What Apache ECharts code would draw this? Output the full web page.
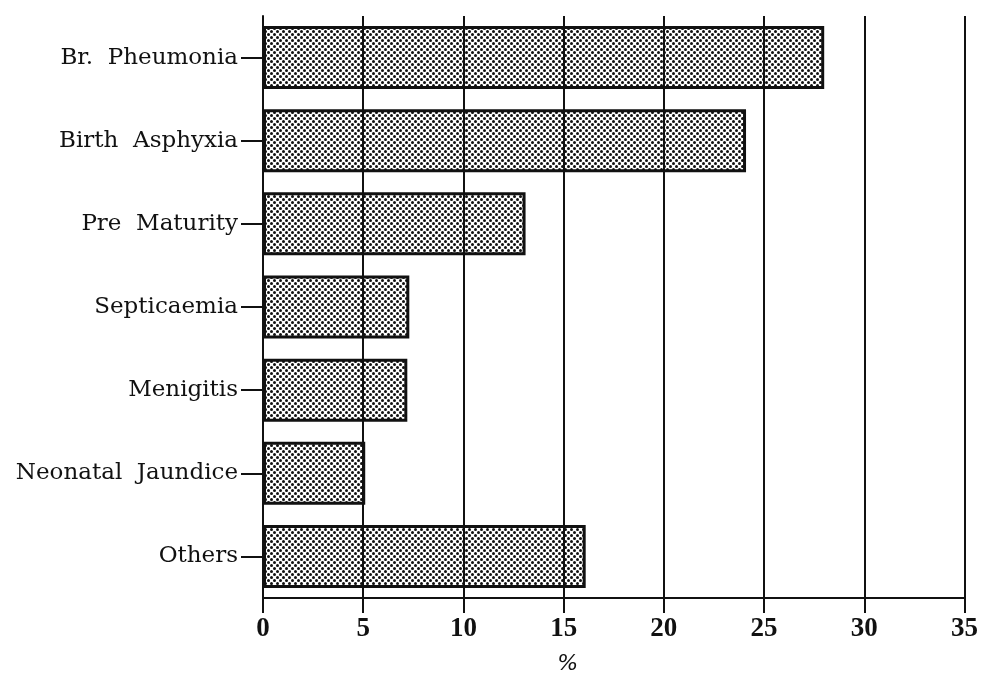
<!DOCTYPE html>
<html><head><meta charset="utf-8">
<script src="https://cdn.jsdelivr.net/npm/echarts@6/dist/echarts.min.js"></script>
<style>html,body{margin:0;padding:0;background:#fff}#c{width:981px;height:680px}</style>
</head><body><div id="c"></div>
<script>
const categories = ['Br.  Pheumonia', 'Birth  Asphyxia', 'Pre  Maturity', 'Septicaemia', 'Menigitis', 'Neonatal  Jaundice', 'Others'];
const values = [28.0, 24.1, 13.1, 7.3, 7.2, 5.1, 16.1];
const xTicks = [0, 5, 10, 15, 20, 25, 30, 35];

const pat = document.createElement('canvas');
pat.width = 6; pat.height = 6;
const g = pat.getContext('2d');
g.fillStyle = '#111';
[[1.5,1.5],[4.5,4.5],[4.5,-1.5],[-1.5,4.5],[4.5,7.5],[7.5,4.5]].forEach(([x,y])=>{
  g.beginPath(); g.arc(x,y,1.5,0,Math.PI*2); g.fill();
});

const chart = echarts.init(document.getElementById('c'));
chart.setOption({
  animation: false,
  backgroundColor: '#fff',
  grid: {left: 263, right: 11, top: 16, bottom: 77},
  xAxis: {
    type: 'value', min: xTicks[0], max: xTicks[xTicks.length-1], interval: 5,
    name: '%', nameLocation: 'middle', nameGap: 55,
    nameTextStyle: {fontFamily: 'DejaVu Sans', fontStyle: 'italic', fontSize: 22, color: '#111', padding: [0, 92, 0, 0]},
    axisLine: {show: true, lineStyle: {color: '#111', width: 2}},
    axisTick: {show: true, length: 15, lineStyle: {color: '#111', width: 2}},
    axisLabel: {fontFamily: 'Liberation Serif', fontWeight: 'bold', fontSize: 27, color: '#111', margin: 18},
    splitLine: {show: true, lineStyle: {color: '#111', width: 2}}
  },
  yAxis: {
    type: 'category', data: categories, inverse: true,
    axisLine: {show: true, lineStyle: {color: '#111', width: 2}},
    axisTick: {show: true, alignWithLabel: true, length: 22, lineStyle: {color: '#111', width: 2}},
    axisLabel: {fontFamily: 'DejaVu Serif', fontSize: 23, color: '#111', margin: 25}
  },
  series: [{
    type: 'bar', data: values, barWidth: 63,
    itemStyle: {color: {image: pat, repeat: 'repeat'}, borderColor: '#111', borderWidth: 3},
    z: 3
  }]
});
</script></body></html>
